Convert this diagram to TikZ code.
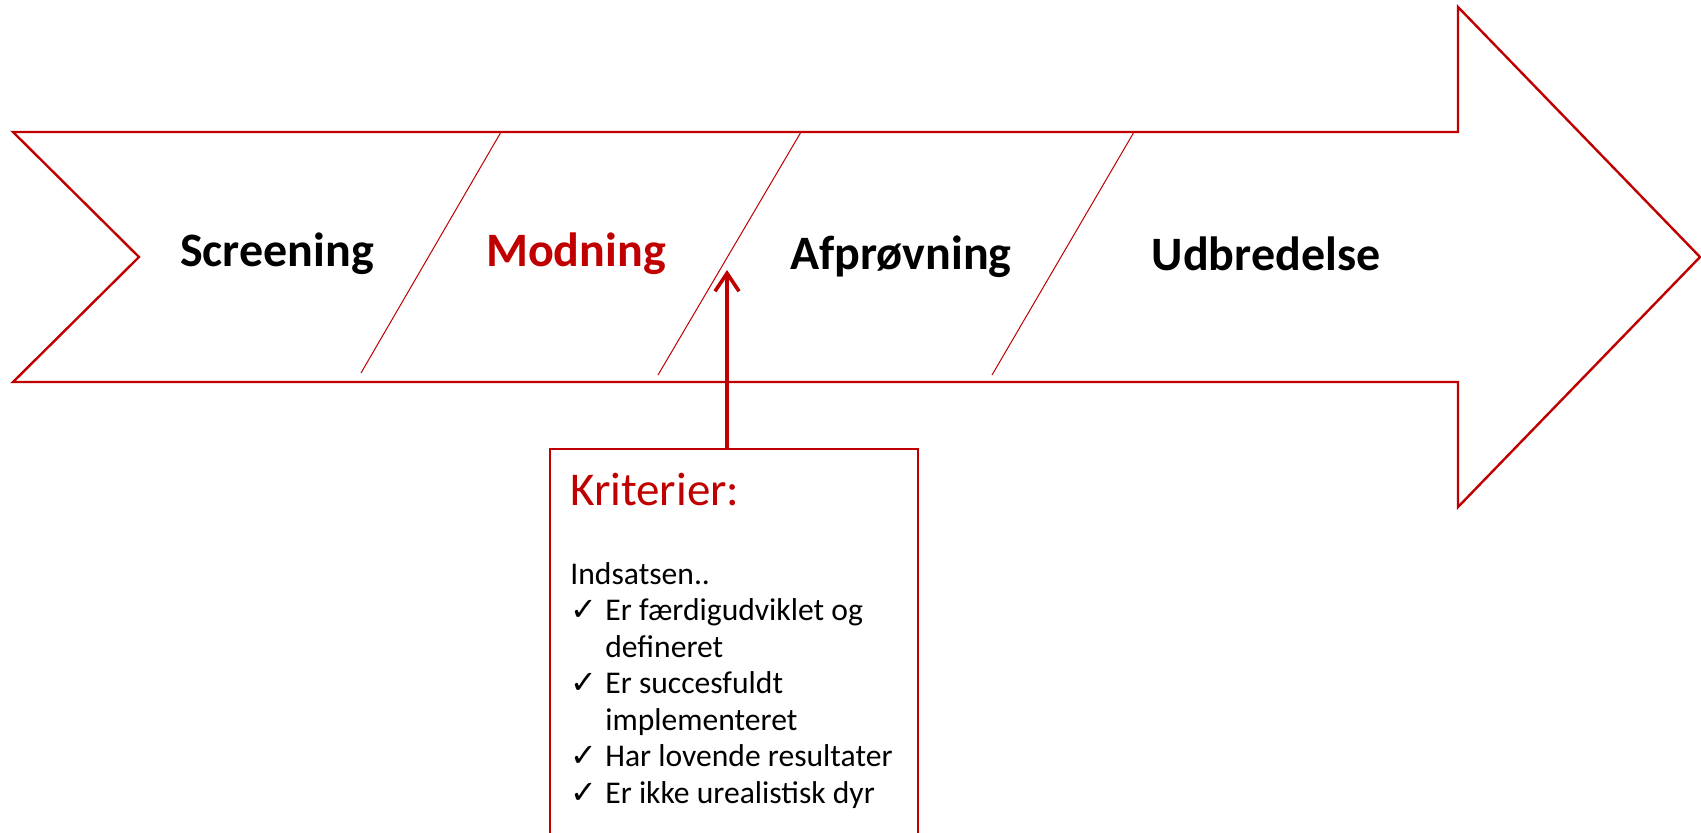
\documentclass[tikz,border=0pt]{standalone}
\usepackage{fontspec}
\setmainfont{Carlito}
\newfontfamily\dejavu{DejaVu Sans}
\usetikzlibrary{arrows.meta}
\definecolor{pptred}{RGB}{192,0,0}
\newcommand\chkmark{{\dejavu\fontsize{16}{18.25}\selectfont ✓}}
\begin{document}
\begin{tikzpicture}[x=0.5pt,y=-0.5pt,
  outline/.style={draw=pptred,line width=1.2pt,line join=miter},
  divider/.style={draw=pptred,line width=0.5pt},
  phase/.style={font=\fontsize{24}{28}\selectfont\bfseries,anchor=base,inner sep=0},
  critbox/.style={draw=pptred,line width=1pt,fill=white,anchor=north west,minimum width=184pt,minimum height=230pt,inner sep=0},
  gate/.style={draw=pptred,line width=1.8pt,-{Straight Barb[length=9pt,width=12pt,line width=1.8pt]}}
]
\clip (0,0) rectangle (1701,832);
\fill[white] (0,0) rectangle (1701,832);
% big arrow outline
\draw[outline] (13,132) -- (1458,132) -- (1458,7) -- (1700,257) -- (1458,507)
  -- (1458,382) -- (13,382) -- (139,257) -- cycle;
% dividers
\draw[divider] (501,132) -- (361,373);
\draw[divider] (801,132) -- (658,375);
\draw[divider] (1134,132) -- (992,375);
% phase labels
\node[phase] (screening) at (277,266) {Screening};
\node[phase,text=pptred] (modning) at (576,266) {Modning};
\node[phase] (afproevning) at (901,269) {Afprøvning};
\node[phase] (udbredelse) at (1266,270) {Udbredelse};
% criteria box
\node[critbox] (crit) at (549,448) {};
\node[anchor=base west,inner sep=0,text=pptred,font=\fontsize{23.5}{27}\selectfont] (crittitle) at (570,505) {Kriterier:};
\node[anchor=base west,inner sep=0,font=\fontsize{15.8}{18.25}\selectfont] (critlist) at (570,584) {%
\begin{tabular}[t]{@{}p{17.5pt}@{}l@{}}
\multicolumn{2}{@{}l@{}}{Indsatsen..}\\
\chkmark & Er færdigudviklet og\\
 & defineret\\
\chkmark & Er succesfuldt\\
 & implementeret\\
\chkmark & Har lovende resultater\\
\chkmark & Er ikke urealistisk dyr
\end{tabular}};
% gate arrow
\coordinate (gatebase) at (727,448);
\coordinate (gatetip) at (727,270);
\draw[gate] (gatebase) -- (gatetip);
\end{tikzpicture}
\end{document}
